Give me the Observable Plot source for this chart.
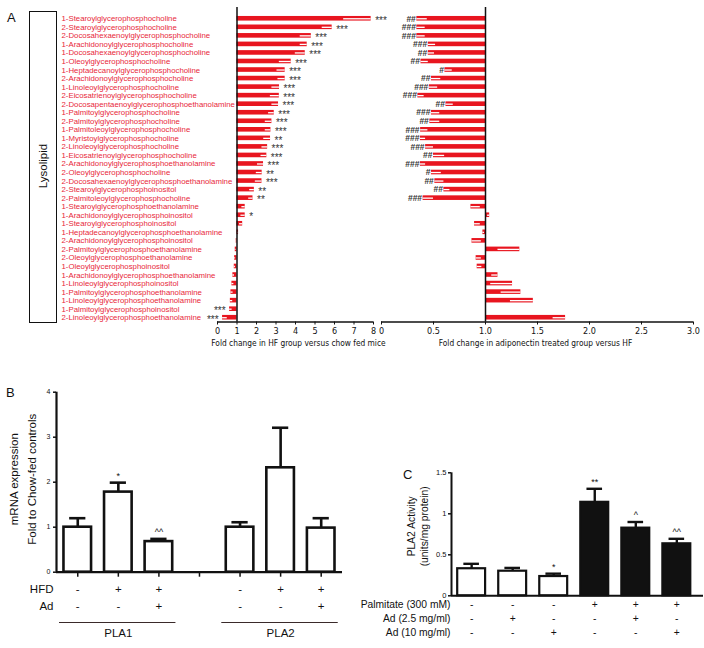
<!DOCTYPE html>
<html><head><meta charset="utf-8">
<script src="https://cdn.jsdelivr.net/npm/d3@7"></script>
<script src="https://cdn.jsdelivr.net/npm/@observablehq/plot@0.6"></script>
<style>
body{margin:0;background:#fff;}
#fig{position:relative;width:704px;height:648px;overflow:hidden;background:#fff;font-family:"Liberation Sans",Arial,sans-serif;color:#111;}
#fig svg{position:absolute;left:0;top:0;}
.lbl{position:absolute;font-size:13px;line-height:13px;}
#box{position:absolute;left:29px;top:11px;width:26px;height:310px;border:1.3px solid #111;}
#lyso{position:absolute;left:43px;top:166px;transform:translate(-50%,-50%) rotate(-90deg);font-size:11.5px;white-space:nowrap;}
</style></head><body>
<div id="fig">
  <div class="lbl" style="left:7px;top:11px">A</div>
  <div class="lbl" style="left:6px;top:386px">B</div>
  <div class="lbl" style="left:403px;top:468px">C</div>
  <div id="box"></div>
  <div id="lyso">Lysolipid</div>
</div>
<script>
// ---------- Panel A data ----------
const lipids = [
"1-Stearoylglycerophosphocholine","2-Stearoylglycerophosphocholine","2-Docosahexaenoylglycerophosphocholine",
"1-Arachidonoylglycerophosphocholine","1-Docosahexaenoylglycerophosphocholine","1-Oleoylglycerophosphocholine",
"1-Heptadecanoylglycerophosphocholine","2-Arachidonoylglycerophosphocholine","1-Linoleoylglycerophosphocholine",
"2-Eicosatrienoylglycerophosphocholine","2-Docosapentaenoylglycerophosphoethanolamine","1-Palmitoylglycerophosphocholine",
"2-Palmitoylglycerophosphocholine","1-Palmitoleoylglycerophosphocholine","1-Myristoylglycerophosphocholine",
"2-Linoleoylglycerophosphocholine","1-Eicosatrienoylglycerophosphocholine","2-Arachidonoylglycerophosphoethanolamine",
"2-Oleoylglycerophosphocholine","2-Docosahexaenoylglycerophosphoethanolamine","2-Stearoylglycerophosphoinositol",
"2-Palmitoleoylglycerophosphocholine","1-Stearoylglycerophosphoethanolamine","1-Arachidonoylglycerophosphoinositol",
"1-Stearoylglycerophosphoinositol","1-Heptadecanoylglycerophosphoethanolamine","2-Arachidonoylglycerophosphoinositol",
"2-Palmitoylglycerophosphoethanolamine","2-Oleoylglycerophosphoethanolamine","1-Oleoylglycerophosphoinositol",
"1-Arachidonoylglycerophosphoethanolamine","1-Linoleoylglycerophosphoinositol","1-Palmitoylglycerophosphoethanolamine",
"1-Linoleoylglycerophosphoethanolamine","1-Palmitoylglycerophosphoinositol","2-Linoleoylglycerophosphoethanolamine"];
const hfMean = [6.47,5.37,4.24,4.24,3.99,3.17,3.05,3.10,2.79,2.71,2.79,2.62,2.45,2.45,2.37,2.28,2.23,2.05,1.99,1.94,1.65,1.60,1.25,1.20,1.13,1.04,0.98,0.95,0.93,0.92,0.87,0.84,0.80,0.78,0.75,0.50];
const hfErr  = [1.41,0.51,0.57,0.36,0.51,0.61,0.42,0.37,0.39,0.46,0.34,0.29,0.34,0.29,0.35,0.29,0.30,0.31,0.30,0.34,0.24,0.22,0.17,0.22,0.16,0.04,0.02,0.04,0.05,0.06,0.08,0.10,0.11,0.12,0.13,0.24];
const hfSig  = ["***","***","***","***","***","***","***","***","***","***","***","***","***","***","**","***","***","***","**","***","**","**","","*","","","","","","","","","","","***","***"];
const adMean = [0.44,0.42,0.42,0.52,0.51,0.45,0.68,0.57,0.54,0.41,0.69,0.56,0.56,0.446,0.424,0.50,0.607,0.424,0.575,0.60,0.658,0.50,0.95,1.02,0.95,0.99,0.96,1.12,0.96,0.965,1.06,1.05,1.15,1.24,1.0,1.65];
const adErr  = [0.10,0.08,0.08,0.07,0.06,0.07,0.07,0.09,0.08,0.06,0.07,0.08,0.095,0.07,0.05,0.076,0.107,0.05,0.095,0.087,0.058,0.10,0.09,0.02,0.055,0.015,0.09,0.21,0.05,0.045,0.06,0.21,0.19,0.22,0.0,0.12];
const adSig  = ["##","###","###","###","##","##","#","##","###","###","##","###","##","###","###","###","##","###","#","##","##","###","","","","","","","","","","","","","",""];
const hfTicks = [0,1,2,3,4,5,6,7,8];
const adTicks = [0,0.5,1,1.5,2,2.5,3];
const hfTitle = "Fold change in HF group versus chow fed mice";
const adTitle = "Fold change in adiponectin treated group versus HF";

// ---------- Panel B data ----------
const bGroups = ["PLA1","PLA2"];
const bHFD = ["-","+","+"];
const bAd  = ["-","-","+"];
const bMean = [[1.0,1.78,0.68],[1.0,2.32,0.98]];
const bErr  = [[0.20,0.21,0.06],[0.11,0.89,0.22]];
const bSig  = [["","*","^^"],["","",""]];
const bTicks = [0,1,2,3,4];
const bTitle = "mRNA expression\nFold to Chow-fed controls";

// ---------- Panel C data ----------
const cPalm  = ["-","-","-","+","+","+"];
const cAd25  = ["-","+","-","-","+","-"];
const cAd10  = ["-","-","+","-","-","+"];
const cMean  = [0.33,0.30,0.235,1.14,0.825,0.634];
const cErr   = [0.06,0.04,0.035,0.165,0.075,0.061];
const cSig   = ["","","*","**","^","^^"];
const cTicks = [0,0.5,1,1.5];
const cRowLabels = ["Palmitate (300 mM)","Ad (2.5 mg/ml)","Ad (10 mg/ml)"];
const cTitle = "PLA2 Activity\n(units/mg protein)";

// ---------- styles ----------
const RED = "#e8151f", LRED = "#e8283a", INK = "#111";
const SANS = '"Liberation Sans", Arial, sans-serif';
const NARROW = '"Liberation Sans Narrow", "Arial Narrow", "DejaVu Sans Condensed", sans-serif';
const fig = document.getElementById("fig");
const add = (svg) => fig.appendChild(svg);
const baseStyle = (ff, fs) => ({background:"transparent", overflow:"visible", fontFamily: ff, fontSize: fs + "px", color: INK});

// ---------- Panel A ----------
const half = 0.27;
const ext = d => d.m >= 1 ? d.m + d.e : d.m - d.e;
const rowsL = lipids.map((name,k)=>({name, i:k+1, m:hfMean[k], e:hfErr[k], s:hfSig[k]}));
const rowsR = lipids.map((name,k)=>({name, i:k+1, m:adMean[k], e:adErr[k], s:adSig[k]}));
const yA = {domain:[0.5, lipids.length + 0.5], reverse:true, axis:null};

add(Plot.plot({
  width:380, height:360, marginLeft:217, marginRight:7, marginTop:14, marginBottom:38.5,
  style: baseStyle(NARROW, 9),
  x:{domain:[0,8], axis:null}, y: yA,
  marks:[
    Plot.rectX(rowsL, {y1:d=>d.i-half, y2:d=>d.i+half, x1:()=>1, x2:ext, fill:RED}),
    Plot.ruleY(rowsL, {y:"i", x1:"m", x2:ext, stroke:"white", strokeWidth:1.3}),
    Plot.ruleX([1], {stroke:INK, strokeWidth:1.5, insetTop:-7}),
    Plot.ruleY([lipids.length + 0.5], {stroke:INK, strokeWidth:1.3}),
    Plot.axisX({ticks:hfTicks, tickSize:3, tickPadding:3, label:null}),
    Plot.text(rowsL, {y:"i", text:"name", frameAnchor:"left", textAnchor:"start", dx:-156, fill:LRED, fontSize:7.8, fontFamily:SANS}),
    Plot.text(rowsL.filter(d=>d.s && d.m>=1), {x:ext, y:"i", text:"s", textAnchor:"start", dx:4, dy:2, fill:"#333", fontSize:10, fontFamily:SANS}),
    Plot.text(rowsL.filter(d=>d.s && d.m<1), {x:ext, y:"i", text:"s", textAnchor:"end", dx:-4, dy:2, fill:"#333", fontSize:10, fontFamily:SANS}),
    Plot.text([hfTitle], {text:d=>d, frameAnchor:"bottom", textAnchor:"middle", dy:23.5, dx:3, fontSize:8.3})
  ]
}));

add(Plot.plot({
  width:704, height:360, marginLeft:381, marginRight:11, marginTop:14, marginBottom:38.5,
  style: baseStyle(NARROW, 9),
  x:{domain:[0,3], axis:null}, y: yA,
  marks:[
    Plot.rectX(rowsR, {y1:d=>d.i-half, y2:d=>d.i+half, x1:()=>1, x2:ext, fill:RED}),
    Plot.ruleY(rowsR.filter(d=>d.e>0), {y:"i", x1:"m", x2:ext, stroke:"white", strokeWidth:1.3}),
    Plot.ruleX([1], {stroke:INK, strokeWidth:1.5, insetTop:-7}),
    Plot.ruleY([lipids.length + 0.5], {stroke:INK, strokeWidth:1.3}),
    Plot.axisX({ticks:adTicks, tickSize:3, tickPadding:3, label:null, tickFormat:d=>d===0?"0":d.toFixed(1)}),
    Plot.text(rowsR.filter(d=>d.s), {x:ext, y:"i", text:"s", textAnchor:"end", dx:-1, fill:"#333", fontSize:8.5, fontWeight:"bold", fontFamily:SANS}),
    Plot.text([adTitle], {text:d=>d, frameAnchor:"bottom", textAnchor:"middle", dy:23.5, dx:-2, fontSize:8.3})
  ]
}));

// ---------- Panel B ----------
const rowsB = [];
bGroups.forEach((g,gi)=>bMean[gi].forEach((m,j)=>rowsB.push({g, p:gi*4+j+1, m, e:bErr[gi][j], hfd:bHFD[j], ad:bAd[j], s:bSig[gi][j]})));
const groupsB = bGroups.map((g,gi)=>({g, lo:gi*4+1, hi:gi*4+bMean[gi].length}));
const xDomB = [0.476, 7.525];
const bw = 0.34, capB = 0.2;
add(Plot.plot({
  width:350, height:648, marginLeft:56, marginRight:8, marginTop:391.7, marginBottom:76.3,
  style: baseStyle(SANS, 11.5),
  x:{domain:xDomB, axis:null}, y:{domain:[0,4], axis:null},
  marks:[
    Plot.ruleX(rowsB, {x:"p", y1:"m", y2:d=>d.m+d.e, stroke:INK, strokeWidth:2.6}),
    Plot.ruleY(rowsB, {y:d=>d.m+d.e, x1:d=>d.p-capB, x2:d=>d.p+capB, stroke:INK, strokeWidth:2.6}),
    Plot.rectY(rowsB, {x1:d=>d.p-bw, x2:d=>d.p+bw, y1:()=>0, y2:"m", fill:"white", stroke:INK, strokeWidth:2.6}),
    Plot.ruleY([0], {stroke:INK, strokeWidth:2.2}),
    Plot.ruleX([xDomB[0]], {stroke:INK, strokeWidth:2.2}),
    Plot.axisY({ticks:bTicks, tickSize:3, tickPadding:3, label:null, fontSize:7, tickFormat:d=>String(d), strokeWidth:1.5}),
    Plot.axisX({ticks:d3.range(1,8), tickSize:5, tickFormat:()=>"", label:null, strokeWidth:1.5}),
    Plot.text(rowsB.filter(d=>d.s), {x:"p", y:d=>d.m+d.e, text:"s", dy:-7, fontSize:9, fill:INK}),
    Plot.text(rowsB, {x:"p", text:"hfd", frameAnchor:"bottom", textAnchor:"middle", dy:20.6}),
    Plot.text(rowsB, {x:"p", text:"ad", frameAnchor:"bottom", textAnchor:"middle", dy:37.3}),
    Plot.text(["HFD"], {text:d=>d, frameAnchor:"bottom-left", textAnchor:"end", dx:-3, dy:20.6}),
    Plot.text(["Ad"], {text:d=>d, frameAnchor:"bottom-left", textAnchor:"end", dx:-3, dy:37.3}),
    Plot.ruleY(groupsB, {y:()=>0, dy:50.3, x1:d=>d.lo-0.45, x2:d=>d.hi+0.42, stroke:"#3a2a2a", strokeWidth:1}),
    Plot.text(groupsB, {x:d=>(d.lo+d.hi)/2, text:"g", frameAnchor:"bottom", textAnchor:"middle", dy:65}),
    Plot.text([bTitle], {text:d=>d, frameAnchor:"left", textAnchor:"middle", rotate:-90, dx:-35, dy:-3, lineHeight:1.55})
  ]
}));

// ---------- Panel C ----------
const rowsC = cMean.map((m,k)=>({p:k+1, m, e:cErr[k], palm:cPalm[k], a25:cAd25[k], a10:cAd10[k], s:cSig[k]}));
const xDomC = [0.509, 6.65];
const bwC = 0.34, capC = 0.19;
const rowDy = [12, 25.7, 40.4];
add(Plot.plot({
  width:704, height:648, marginLeft:451, marginRight:1, marginTop:472.3, marginBottom:52.7,
  style: baseStyle(SANS, 10.3),
  x:{domain:xDomC, axis:null}, y:{domain:[0,1.5], axis:null},
  marks:[
    Plot.ruleX(rowsC, {x:"p", y1:"m", y2:d=>d.m+d.e, stroke:INK, strokeWidth:2.4}),
    Plot.ruleY(rowsC, {y:d=>d.m+d.e, x1:d=>d.p-capC, x2:d=>d.p+capC, stroke:INK, strokeWidth:2.4}),
    Plot.rectY(rowsC, {x1:d=>d.p-bwC, x2:d=>d.p+bwC, y1:()=>0, y2:"m", fill:d=>d.palm==="+"?INK:"white", stroke:INK, strokeWidth:2.2}),
    Plot.ruleY([0], {stroke:INK, strokeWidth:2}),
    Plot.ruleX([xDomC[0]], {stroke:INK, strokeWidth:2}),
    Plot.axisY({ticks:cTicks, tickSize:3, tickPadding:2, label:null, fontSize:7.5, tickFormat:d=>String(d), strokeWidth:1.5}),
    Plot.text(rowsC.filter(d=>d.s), {x:"p", y:d=>d.m+d.e, text:"s", dy:-7, fontSize:9, fill:INK}),
    Plot.text(rowsC, {x:"p", text:"palm", frameAnchor:"bottom", textAnchor:"middle", dy:rowDy[0]}),
    Plot.text(rowsC, {x:"p", text:"a25", frameAnchor:"bottom", textAnchor:"middle", dy:rowDy[1]}),
    Plot.text(rowsC, {x:"p", text:"a10", frameAnchor:"bottom", textAnchor:"middle", dy:rowDy[2]}),
    ...cRowLabels.map((lab,k)=>Plot.text([lab], {text:d=>d, frameAnchor:"bottom-left", textAnchor:"end", dx:-1, dy:rowDy[k]})),
    Plot.text([cTitle], {text:d=>d, frameAnchor:"left", textAnchor:"middle", rotate:-90, dx:-34.3, dy:-8, lineHeight:1.3})
  ]
}));
</script>
</body></html>
